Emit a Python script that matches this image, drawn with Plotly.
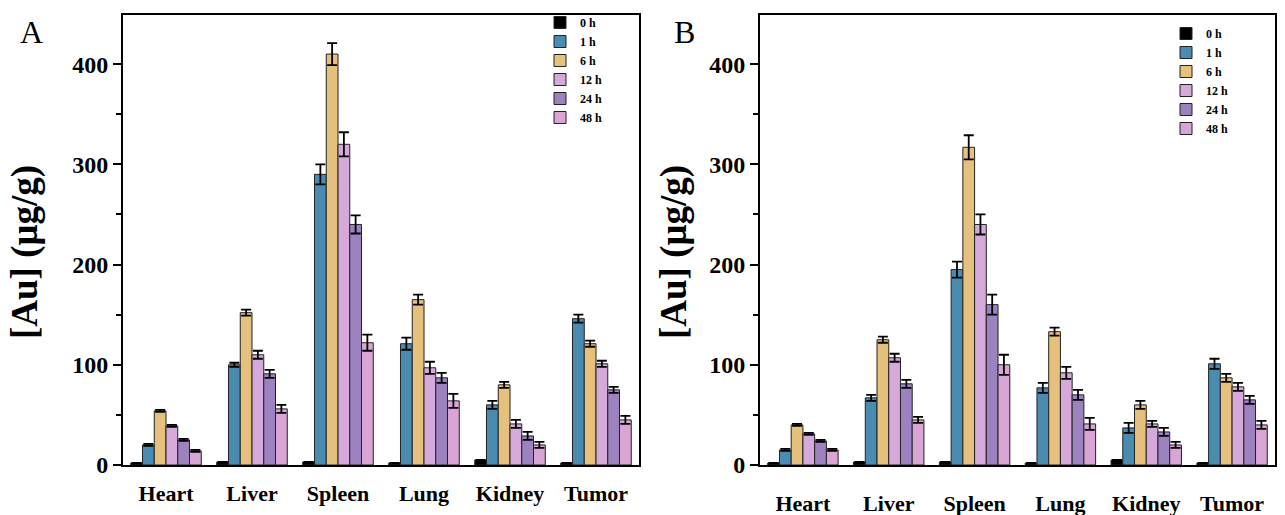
import plotly.graph_objects as go

organs = ["Heart", "Liver", "Spleen", "Lung", "Kidney", "Tumor"]
times = ["0 h", "1 h", "6 h", "12 h", "24 h", "48 h"]
colors = ["#000000", "#4A8BB2", "#E5C17D", "#D5A9D9", "#9C83C0", "#D9A5D5"]
y_title = "[Au] (μg/g)"

# Panel A values per time point (organs order)
a_0h = [2, 3, 3, 2, 5, 2]
a_1h = [20, 100, 290, 121, 60, 146]
a_6h = [54, 152, 410, 165, 80, 121]
a_12h = [39, 110, 320, 97, 41, 101]
a_24h = [25, 91, 240, 87, 29, 75]
a_48h = [14, 56, 122, 64, 20, 45]
a_err_0h = [0, 0, 0, 0, 0, 0]
a_err_1h = [1, 2, 10, 6, 4, 4]
a_err_6h = [1, 3, 11, 5, 3, 3]
a_err_12h = [1, 4, 12, 6, 4, 3]
a_err_24h = [1, 4, 9, 5, 4, 3]
a_err_48h = [1, 4, 8, 7, 3, 4]

# Panel B values
b_0h = [2, 3, 3, 2, 5, 2]
b_1h = [15, 67, 195, 77, 37, 101]
b_6h = [40, 125, 317, 133, 60, 87]
b_12h = [31, 107, 240, 92, 41, 78]
b_24h = [24, 81, 160, 70, 33, 65]
b_48h = [15, 45, 100, 41, 20, 40]
b_err_0h = [0, 0, 0, 0, 0, 0]
b_err_1h = [1, 3, 8, 5, 5, 5]
b_err_6h = [1, 3, 12, 4, 4, 4]
b_err_12h = [1, 4, 10, 6, 3, 4]
b_err_24h = [1, 4, 10, 5, 4, 4]
b_err_48h = [1, 3, 10, 6, 3, 4]

a_vals = [a_0h, a_1h, a_6h, a_12h, a_24h, a_48h]
a_errs = [a_err_0h, a_err_1h, a_err_6h, a_err_12h, a_err_24h, a_err_48h]
b_vals = [b_0h, b_1h, b_6h, b_12h, b_24h, b_48h]
b_errs = [b_err_0h, b_err_1h, b_err_6h, b_err_12h, b_err_24h, b_err_48h]

FONT = "Liberation Serif"
W, H = 1285, 515
fig = go.Figure()

for panel, vals, errs, xa, ya, lg in [
    ("A", a_vals, a_errs, "x", "y", "legend"),
    ("B", b_vals, b_errs, "x2", "y2", "legend2"),
]:
    for t, v, e, c in zip(times, vals, errs, colors):
        fig.add_trace(go.Bar(
            x=organs, y=v, name=t, xaxis=xa, yaxis=ya, legend=lg,
            marker=dict(color=c, line=dict(color="#222222", width=1)),
            error_y=dict(type="data", array=e, color="#000000", thickness=1.8, width=5,
                         visible=True),
        ))

yax = dict(range=[0, 449], showline=True, linecolor="black", linewidth=2, mirror=True,
           ticks="outside", ticklen=8, tickwidth=2, tickcolor="black",
           tickvals=[0, 100, 200, 300, 400], automargin=False,
           minor=dict(tickvals=[50, 150, 250, 350], ticklen=5, tickwidth=2, tickcolor="black", ticks="outside"),
           showgrid=False, zeroline=False,
           tickfont=dict(family=FONT, size=24, color="black", weight="bold"))
xax = dict(type="category", categoryorder="array", categoryarray=organs,
           showline=True, linecolor="black", linewidth=2, mirror=True, ticks="",
           showgrid=False, zeroline=False, automargin=False,
           tickfont=dict(family=FONT, size=22, color="black", weight="bold"))

legend_font = dict(family=FONT, size=12, color="black", weight="bold")
title_font = dict(family=FONT, size=37, color="black", weight="bold")

fig.update_layout(
    width=W, height=H, margin=dict(l=0, r=0, t=0, b=0, autoexpand=False),
    paper_bgcolor="white", plot_bgcolor="white",
    barmode="group", bargap=0.18, bargroupgap=0,
    xaxis=dict(xax, domain=[123/W, 639/W], anchor="y", range=[-0.5, 5.5],
               ticklabelstandoff=8),
    yaxis=dict(yax, domain=[1-465/H, 1-15/H], anchor="x"),
    xaxis2=dict(xax, domain=[760/W, 1275/W], anchor="y2", range=[-0.5, 5.5],
                ticklabelstandoff=18),
    yaxis2=dict(yax, domain=[1-465/H, 1-15/H], anchor="x2"),
    legend=dict(x=540/W, y=1-8/H, xanchor="left", yanchor="top", font=legend_font,
                bgcolor="rgba(0,0,0,0)", tracegroupgap=0, itemwidth=30),
    legend2=dict(x=1166/W, y=1-19/H, xanchor="left", yanchor="top", font=legend_font,
                 bgcolor="rgba(0,0,0,0)", tracegroupgap=0, itemwidth=30),
    annotations=[
        dict(text="A", x=18/W, y=1-12/H, xref="paper", yref="paper", xanchor="left", yanchor="top",
             showarrow=False, font=dict(family=FONT, size=32, color="black")),
        dict(text="B", x=672/W, y=1-12/H, xref="paper", yref="paper", xanchor="left", yanchor="top",
             showarrow=False, font=dict(family=FONT, size=32, color="black")),
        dict(text=y_title, x=25/W, y=1-252/H, xref="paper", yref="paper", xanchor="center",
             yanchor="middle", textangle=-90, showarrow=False, font=title_font),
        dict(text=y_title, x=674/W, y=1-252/H, xref="paper", yref="paper", xanchor="center",
             yanchor="middle", textangle=-90, showarrow=False, font=title_font),
    ],
)

fig.write_html("out.html", config={"displayModeBar": False},
               post_script="document.body.style.margin='0px';document.body.style.overflow='hidden';")
